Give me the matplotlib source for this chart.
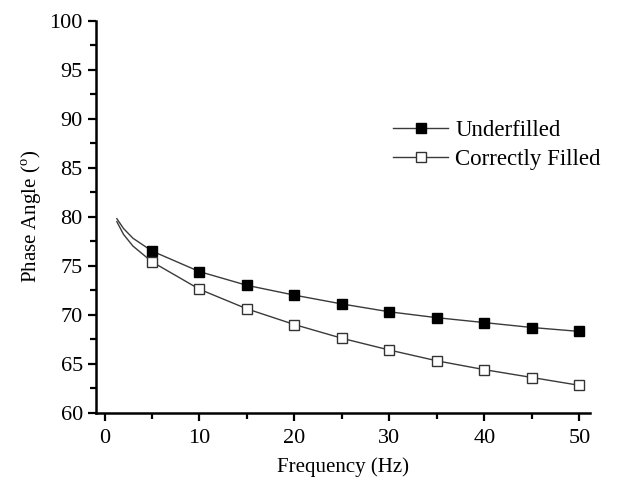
import matplotlib.pyplot as plt
from matplotlib.ticker import MultipleLocator

plt.rcParams['font.family'] = ['Liberation Serif', 'DejaVu Serif']
plt.rcParams['mathtext.fontset'] = 'custom'
plt.rcParams['mathtext.rm'] = 'Liberation Serif'

freq = [1.3, 2, 3, 5, 10, 15, 20, 25, 30, 35, 40, 45, 50]
underfilled = [79.8, 78.8, 77.8, 76.5, 74.4, 73.0, 72.0, 71.1, 70.3, 69.7, 69.2, 68.7, 68.3]
correct = [79.5, 78.2, 77.0, 75.4, 72.6, 70.6, 69.0, 67.6, 66.4, 65.3, 64.4, 63.6, 62.8]

marked = list(range(3, len(freq)))

fig = plt.figure(figsize=(6.44, 4.80), dpi=100)
ax = fig.add_axes([0.149, 0.14, 0.767, 0.817])

ax.plot(freq, underfilled, color='#3a3a3a', lw=1, marker='s', ms=7,
        mfc='black', mec='black', markevery=marked, label='Underfilled')
ax.plot(freq, correct, color='#3a3a3a', lw=1, marker='s', ms=7,
        mfc='white', mec='#333333', mew=1, markevery=marked,
        label='Correctly Filled')

ax.set_xlim(-0.9, 51.1)
ax.set_ylim(60, 100)
ax.xaxis.set_major_locator(MultipleLocator(10))
ax.xaxis.set_minor_locator(MultipleLocator(5))
ax.yaxis.set_major_locator(MultipleLocator(5))
ax.yaxis.set_minor_locator(MultipleLocator(2.5))

for s in ['top', 'right']:
    ax.spines[s].set_visible(False)
for s in ['left', 'bottom']:
    ax.spines[s].set_linewidth(1.8)
ax.tick_params(which='major', direction='out', length=6, width=1.6, labelsize=16)
ax.tick_params(axis='x', which='major', pad=6)
ax.tick_params(which='minor', direction='out', length=4, width=1.6)

ax.set_xlabel('Frequency (Hz)', fontsize=15, labelpad=6)
ax.set_ylabel('Phase Angle ($^{\\mathrm{o}}$)', fontsize=15)

ax.legend(loc='upper left', bbox_to_anchor=(0.56, 0.80), frameon=False,
          fontsize=16.5, handlelength=2.4, handletextpad=0.3, labelspacing=0.35)

fig.savefig('out.png', dpi=100)
